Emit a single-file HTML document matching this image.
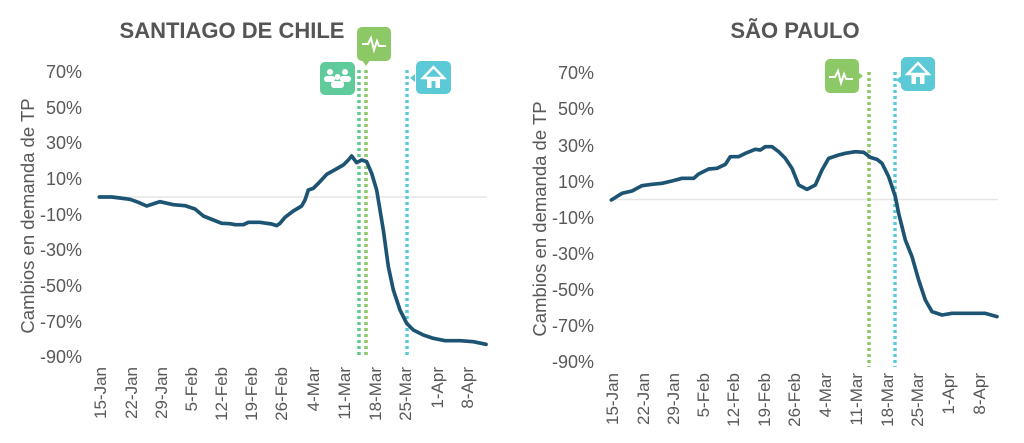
<!DOCTYPE html>
<html><head><meta charset="utf-8"><style>
html,body{margin:0;padding:0;background:#fff;}
svg{display:block;font-family:"Liberation Sans","DejaVu Sans",sans-serif;}
.yl{font-size:18px;fill:#595959;text-anchor:end;}
.xl{font-size:17px;fill:#595959;text-anchor:end;}
.tt{font-size:22px;font-weight:bold;fill:#555;text-anchor:middle;}
.at{font-size:18.5px;fill:#595959;text-anchor:middle;}
</style></head><body>
<svg width="1024" height="443" viewBox="0 0 1024 443">
<!-- LEFT -->
<text class="tt" x="232" y="38">SANTIAGO DE CHILE</text>
<g class="yl">
<text x="82" y="78">70%</text><text x="82" y="114">50%</text><text x="82" y="149">30%</text><text x="82" y="185">10%</text><text x="82" y="221">-10%</text><text x="82" y="256">-30%</text><text x="82" y="292">-50%</text><text x="82" y="328">-70%</text><text x="82" y="363">-90%</text>
</g>
<text class="at" transform="translate(34,216) rotate(-90)">Cambios en demanda de TP</text>
<line x1="100" y1="197" x2="487" y2="197" stroke="#e6e6e6" stroke-width="1.5"/>
<g class="xl">
<text transform="translate(106,367) rotate(-90)">15-Jan</text>
<text transform="translate(137,367) rotate(-90)">22-Jan</text>
<text transform="translate(167,367) rotate(-90)">29-Jan</text>
<text transform="translate(197,367) rotate(-90)">5-Feb</text>
<text transform="translate(227,367) rotate(-90)">12-Feb</text>
<text transform="translate(257,367) rotate(-90)">19-Feb</text>
<text transform="translate(287,367) rotate(-90)">26-Feb</text>
<text transform="translate(319,367) rotate(-90)">4-Mar</text>
<text transform="translate(350,367) rotate(-90)">11-Mar</text>
<text transform="translate(381,367) rotate(-90)">18-Mar</text>
<text transform="translate(411,367) rotate(-90)">25-Mar</text>
<text transform="translate(443,367) rotate(-90)">1-Apr</text>
<text transform="translate(473,367) rotate(-90)">8-Apr</text>
</g>
<line x1="359" y1="70" x2="359" y2="358" stroke="#5fcb8e" stroke-width="3.5" stroke-dasharray="3,3"/>
<line x1="366" y1="70" x2="366" y2="358" stroke="#8cc866" stroke-width="3.5" stroke-dasharray="3,3"/>
<line x1="407" y1="70" x2="407" y2="358" stroke="#5bcad6" stroke-width="3.5" stroke-dasharray="3,3"/>
<g transform="scale(0.33333)">
<polyline fill="none" stroke="#1d5474" stroke-width="11" stroke-linejoin="round" stroke-linecap="round" points="298,591 335,591 360,594 390,598 415,607 440,618 480,605 520,614 555,617 585,627 610,648 640,660 665,670 690,671 705,674 730,674 745,667 780,667 800,670 815,672 830,677 840,670 855,652 880,633 905,618 915,600 925,570 940,565 955,550 980,523 1000,512 1030,495 1045,480 1055,468 1070,488 1085,480 1100,485 1115,520 1130,570 1150,690 1165,800 1180,870 1200,930 1220,970 1240,990 1270,1005 1300,1015 1335,1022 1380,1022 1420,1025 1458,1033"/>
</g>
<!-- icons left -->
<rect x="320" y="62" width="35" height="33" rx="5" fill="#5fcb9b"/>
<g fill="#fff"><circle cx="330" cy="72" r="3"/><circle cx="345" cy="72" r="3"/><circle cx="337.5" cy="77" r="3"/><rect x="324" y="76" width="11" height="6" rx="3"/><rect x="340" y="76" width="11" height="6" rx="3"/><rect x="331" y="81" width="13" height="7" rx="3"/></g>
<rect x="357" y="27" width="34" height="34" rx="5" fill="#8cc866"/>
<polygon points="362,60 370,60 366,66" fill="#8cc866"/>
<polyline points="362,44 368,44 371,38 374,50 377,41 379,46 386,46" fill="none" stroke="#fff" stroke-width="2"/>
<rect x="416" y="61" width="35" height="33" rx="5" fill="#5bcad6"/>
<polygon points="415,74 415,82 410,78" fill="#5bcad6"/>
<polygon points="423,78 433.5,67 444,78" fill="none" stroke="#fff" stroke-width="2.5"/>
<rect x="427" y="77" width="13" height="11" fill="#fff"/><rect x="431.5" y="81" width="4" height="7" fill="#5bcad6"/>

<!-- RIGHT -->
<text class="tt" x="795" y="38">SÃO PAULO</text>
<g class="yl">
<text x="594" y="79">70%</text><text x="594" y="115">50%</text><text x="594" y="152">30%</text><text x="594" y="188">10%</text><text x="594" y="224">-10%</text><text x="594" y="260">-30%</text><text x="594" y="296">-50%</text><text x="594" y="332">-70%</text><text x="594" y="368">-90%</text>
</g>
<text class="at" transform="translate(546,219) rotate(-90)">Cambios en demanda de TP</text>
<line x1="612" y1="199.5" x2="998" y2="199.5" stroke="#e6e6e6" stroke-width="1.5"/>
<g class="xl">
<text transform="translate(618,373) rotate(-90)">15-Jan</text>
<text transform="translate(649,373) rotate(-90)">22-Jan</text>
<text transform="translate(679,373) rotate(-90)">29-Jan</text>
<text transform="translate(709,373) rotate(-90)">5-Feb</text>
<text transform="translate(739,373) rotate(-90)">12-Feb</text>
<text transform="translate(770,373) rotate(-90)">19-Feb</text>
<text transform="translate(800,373) rotate(-90)">26-Feb</text>
<text transform="translate(831,373) rotate(-90)">4-Mar</text>
<text transform="translate(862,373) rotate(-90)">11-Mar</text>
<text transform="translate(893,373) rotate(-90)">18-Mar</text>
<text transform="translate(923,373) rotate(-90)">25-Mar</text>
<text transform="translate(954,373) rotate(-90)">1-Apr</text>
<text transform="translate(985,373) rotate(-90)">8-Apr</text>
</g>
<line x1="869" y1="72" x2="869" y2="367" stroke="#8cc866" stroke-width="3.5" stroke-dasharray="3,3"/>
<line x1="895" y1="72" x2="895" y2="367" stroke="#5bcad6" stroke-width="3.5" stroke-dasharray="3,3"/>
<g transform="translate(512,0) scale(0.33333)">
<polyline fill="none" stroke="#1d5474" stroke-width="11" stroke-linejoin="round" stroke-linecap="round" points="298,600 330,580 360,573 390,557 420,553 450,550 480,543 510,535 545,535 560,522 590,507 615,505 640,493 655,470 680,470 700,460 730,448 745,450 760,440 780,440 800,455 820,475 840,505 860,555 885,568 910,555 930,510 950,475 980,465 1000,460 1030,455 1055,457 1075,472 1095,478 1110,490 1130,530 1150,590 1160,640 1180,720 1200,770 1220,840 1240,900 1260,935 1290,945 1320,940 1360,940 1420,940 1455,950"/>
</g>
<rect x="825" y="59" width="34" height="34" rx="5" fill="#8cc866"/>
<polygon points="858,72 858,80 863,76" fill="#8cc866"/>
<polyline points="829,77 835,77 838,71 841,83 844,74 846,79 853,79" fill="none" stroke="#fff" stroke-width="2"/>
<rect x="901" y="57" width="34" height="34" rx="5" fill="#5bcad6"/>
<polygon points="901,76 901,84 896,80" fill="#5bcad6"/>
<polygon points="907.5,74 918,63 928.5,74" fill="none" stroke="#fff" stroke-width="2.5"/>
<rect x="911.5" y="73" width="13" height="11" fill="#fff"/><rect x="916" y="77" width="4" height="7" fill="#5bcad6"/>
</svg>
</body></html>
